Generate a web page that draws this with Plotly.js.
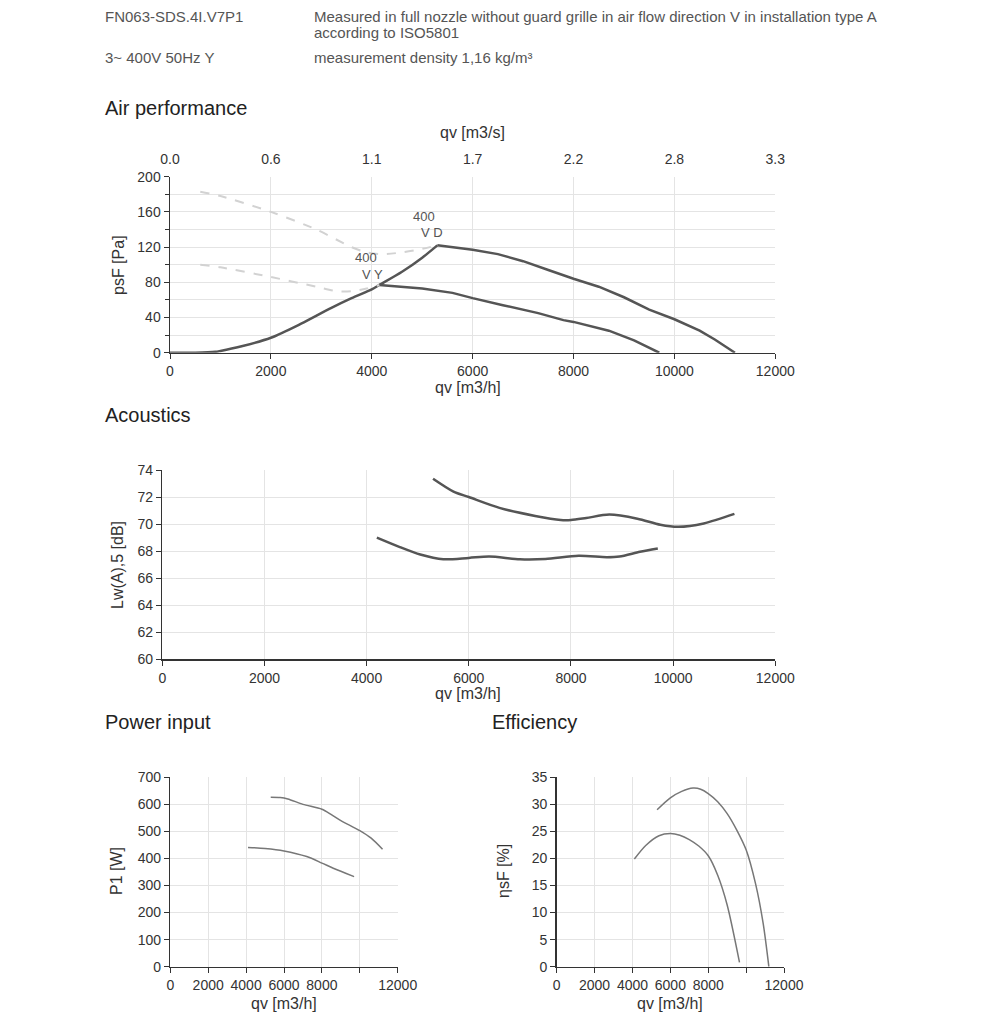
<!DOCTYPE html>
<html><head><meta charset="utf-8">
<script src="https://cdn.plot.ly/plotly-3.0.1.min.js"></script>
<style>html,body{margin:0;padding:0;background:#fff;} #chart{width:1000px;height:1023px;}</style>
</head><body><div id="chart"></div>
<script>
// ---------- data ----------
// Air performance (qv m3/h, psF Pa)
const vdQ   = [5300, 5700, 6000, 6500, 7000, 7500, 8000, 8500, 9000, 9500, 10000, 10500, 10800, 11200];
const vdP   = [122, 119, 117, 112, 104, 94, 84, 75, 63, 49, 38, 25, 15, 0];
const vyQ   = [4150, 4600, 5000, 5600, 6000, 6600, 7300, 7800, 8000, 8700, 9200, 9700];
const vyP   = [77, 75, 73, 68, 62, 54, 45, 37, 35, 25, 14, 0];
const sysQ  = [0, 500, 900, 1000, 1400, 2000, 2600, 3200, 3600, 4000, 4150, 4600, 5000, 5300];
const sysP  = [0, 0, 1, 2, 7, 17, 33, 51, 62, 72, 77, 92, 108, 122];
const dashUpQ = [600, 1000, 2000, 2900, 3600, 3900, 4200, 4600, 5000, 5300];
const dashUpP = [183, 178, 160, 140, 120, 114, 112, 114, 118, 122];
const dashLoQ = [600, 1000, 2000, 2900, 3300, 3600, 3900, 4150];
const dashLoP = [100, 97, 86, 75, 70, 70, 73, 77];
// top axis labels (m3/s) placed at the m3/h positions
const topTickVals = [0, 2000, 4000, 6000, 8000, 10000, 12000];
const topTickText = ['0.0', '0.6', '1.1', '1.7', '2.2', '2.8', '3.3'];
// Acoustics (qv m3/h, Lw dB)
const acUpQ = [5300, 5700, 6000, 6600, 7300, 7800, 8000, 8300, 8750, 9300, 9750, 10100, 10600, 11200];
const acUpL = [73.35, 72.4, 72.0, 71.2, 70.6, 70.3, 70.3, 70.45, 70.7, 70.4, 69.95, 69.8, 70.05, 70.75];
const acLoQ = [4200, 4650, 5050, 5500, 6000, 6400, 7000, 7500, 8150, 8700, 8950, 9350, 9700];
const acLoL = [69.0, 68.3, 67.75, 67.4, 67.5, 67.6, 67.4, 67.42, 67.65, 67.55, 67.6, 67.95, 68.2];
// Power input (qv m3/h, P1 W)
const pwUpQ = [5300, 5800, 6200, 7000, 8000, 8500, 9000, 10000, 10600, 11200];
const pwUpW = [626, 625, 620, 600, 582, 562, 540, 503, 475, 434];
const pwLoQ = [4100, 5000, 6000, 7200, 8000, 8600, 9700];
const pwLoW = [441, 437, 428, 407, 383, 364, 333];
const smallTickVals = [0, 2000, 4000, 6000, 8000, 10000, 12000];
const smallTickText = ['0', '2000', '4000', '6000', '8000', '', '12000'];
// Efficiency (qv m3/h, etasF %)
const efUpQ = [5300, 6000, 6600, 7200, 7600, 8000, 8500, 9000, 9500, 10000, 10500, 10900, 11200];
const efUpE = [29, 31.2, 32.4, 33.0, 32.8, 32.0, 30.5, 28.3, 25.3, 21.6, 15.3, 8, 0];
const efLoQ = [4100, 4700, 5400, 6000, 6500, 7000, 7500, 8000, 8500, 9000, 9650];
const efLoE = [19.9, 22.4, 24.2, 24.6, 24.3, 23.5, 22.3, 20.5, 16.9, 11.4, 0.8];

// ---------- styling ----------
const W = 1000, H = 1023;
const px = v => v / W, py = v => 1 - v / H;
const FONT = 'Liberation Sans, Arial, Helvetica, sans-serif';
const GRID = '#e4e4e4', AX = '#333', TXT = '#333';
const bigLine = {color: '#555', width: 2.5};
const smallLine = {color: '#777', width: 1.5};
const dashLine = {color: '#d2d2d2', width: 2, dash: 'dash'};

function tr(x, y, xa, ya, line, shape) {
  return {x, y, xaxis: xa, yaxis: ya, type: 'scatter', mode: 'lines',
    line: Object.assign({shape: shape || 'linear', smoothing: 0.8}, line),
    hoverinfo: 'x+y', showlegend: false};
}
const data = [
  tr(dashUpQ, dashUpP, 'x2', 'y', dashLine, 'spline'),
  tr(dashLoQ, dashLoP, 'x2', 'y', dashLine, 'spline'),
  tr(sysQ, sysP, 'x', 'y', bigLine, 'spline'),
  tr(vdQ, vdP, 'x', 'y', bigLine),
  tr(vyQ, vyP, 'x', 'y', bigLine),
  tr(acUpQ, acUpL, 'x3', 'y3', bigLine, 'spline'),
  tr(acLoQ, acLoL, 'x3', 'y3', bigLine, 'spline'),
  tr(pwUpQ, pwUpW, 'x4', 'y4', smallLine, 'spline'),
  tr(pwLoQ, pwLoW, 'x4', 'y4', smallLine, 'spline'),
  tr(efUpQ, efUpE, 'x5', 'y5', smallLine, 'spline'),
  tr(efLoQ, efLoE, 'x5', 'y5', smallLine, 'spline')
];

function xAx(d, anchor, extra) {
  return Object.assign({domain: d, anchor, range: [0, 12000], tick0: 0, dtick: 2000, tickformat: 'd',
    showgrid: true, gridcolor: GRID, gridwidth: 1, zeroline: false,
    showline: true, linecolor: AX, linewidth: 1.5,
    ticks: 'outside', ticklen: 5, tickcolor: AX, tickwidth: 1,
    tickfont: {size: 14, color: TXT, family: FONT}, tickangle: 0, fixedrange: true}, extra || {});
}
function yAx(d, anchor, range, dtick, extra) {
  return Object.assign({domain: d, anchor, range, tick0: range[0], dtick,
    showgrid: true, gridcolor: GRID, gridwidth: 1, zeroline: false,
    showline: true, linecolor: AX, linewidth: 1.5,
    ticks: 'outside', ticklen: 5, tickcolor: AX, tickwidth: 1,
    tickfont: {size: 14, color: TXT, family: FONT}, fixedrange: true}, extra || {});
}

const yBig = [py(352.7), py(176.7)];
const smallX = {tickmode: 'array', tickvals: smallTickVals, ticktext: smallTickText};
const layout = {
  width: W, height: H, margin: {l: 0, r: 0, t: 0, b: 0},
  paper_bgcolor: '#fff', plot_bgcolor: '#fff',
  font: {family: FONT, color: TXT},
  showlegend: false,
  xaxis: xAx([px(170), px(775.3)], 'y'),
  xaxis2: xAx([px(170), px(775.3)], 'y', {overlaying: 'x', side: 'top', showgrid: false,
    showline: false, tickmode: 'array', tickvals: topTickVals, ticktext: topTickText,
    ticklen: 6, tickcolor: 'rgba(0,0,0,0)'}),
  yaxis: yAx(yBig, 'x', [0, 200], 40, {minor: {dtick: 20, showgrid: true, gridcolor: GRID,
    ticks: 'outside', ticklen: 4, tickcolor: AX}}),
  xaxis3: xAx([px(162.3), px(775.3)], 'y3'),
  yaxis3: yAx([py(659.3), py(470)], 'x3', [60, 74], 2),
  xaxis4: xAx([px(170.3), px(397.7)], 'y4', smallX),
  yaxis4: yAx([py(966.7), py(777.3)], 'x4', [0, 700], 100),
  xaxis5: xAx([px(556.7), px(784)], 'y5', smallX),
  yaxis5: yAx([py(966.7), py(777.3)], 'x5', [0, 35], 5),
  annotations: []
};

function note(text, x, y, size, opts) {
  layout.annotations.push(Object.assign({text, x: px(x), y: py(y), xref: 'paper', yref: 'paper',
    showarrow: false, xanchor: 'center', yanchor: 'middle',
    font: {size, color: TXT, family: FONT}}, opts || {}));
}
// header
const HC = '#555';
note('FN063-SDS.4I.V7P1', 103, 17, 15, {xanchor: 'left', font: {size: 15, color: HC, family: FONT}});
note('Measured in full nozzle without guard grille in air flow direction V in installation type A', 312, 17, 15, {xanchor: 'left', font: {size: 15, color: HC, family: FONT}});
note('according to ISO5801', 312, 33, 15, {xanchor: 'left', font: {size: 15, color: HC, family: FONT}});
note('3~ 400V 50Hz Y', 103, 58, 15, {xanchor: 'left', font: {size: 15, color: HC, family: FONT}});
note('measurement density 1,16 kg/m³', 312, 58, 15, {xanchor: 'left', font: {size: 15, color: HC, family: FONT}});
// section titles
const SC = '#222';
note('Air performance', 103, 108, 20, {xanchor: 'left', font: {size: 20, color: SC, family: FONT}});
note('Acoustics', 103, 415, 20, {xanchor: 'left', font: {size: 20, color: SC, family: FONT}});
note('Power input', 103, 722, 20, {xanchor: 'left', font: {size: 20, color: SC, family: FONT}});
note('Efficiency', 490, 722, 20, {xanchor: 'left', font: {size: 20, color: SC, family: FONT}});
// axis titles
note('qv [m3/s]', 472, 132, 16);
note('qv [m3/h]', 468, 387, 16);
note('psF [Pa]', 118, 265, 16, {textangle: -90});
note('qv [m3/h]', 468, 693, 16);
note('Lw(A),5 [dB]', 117, 565, 16, {textangle: -90});
note('P1 [W]', 116, 871, 16, {textangle: -90});
note('qv [m3/h]', 284, 1003, 16);
note('ηsF [%]', 503, 871, 16, {textangle: -90});
note('qv [m3/h]', 670, 1003, 16);
// curve labels (data coords)
const LC = '#555';
function cl(text, x, y) {
  layout.annotations.push({text, x, y, xref: 'x', yref: 'y', showarrow: false,
    xanchor: 'center', yanchor: 'middle', font: {size: 13, color: LC, family: FONT}});
}
cl('400', 5040, 155);
cl('V D', 5200, 137);
cl('400', 3890, 108);
cl('V Y', 4020, 89);

Plotly.newPlot('chart', data, layout, {staticPlot: true, displayModeBar: false});
</script></body></html>
